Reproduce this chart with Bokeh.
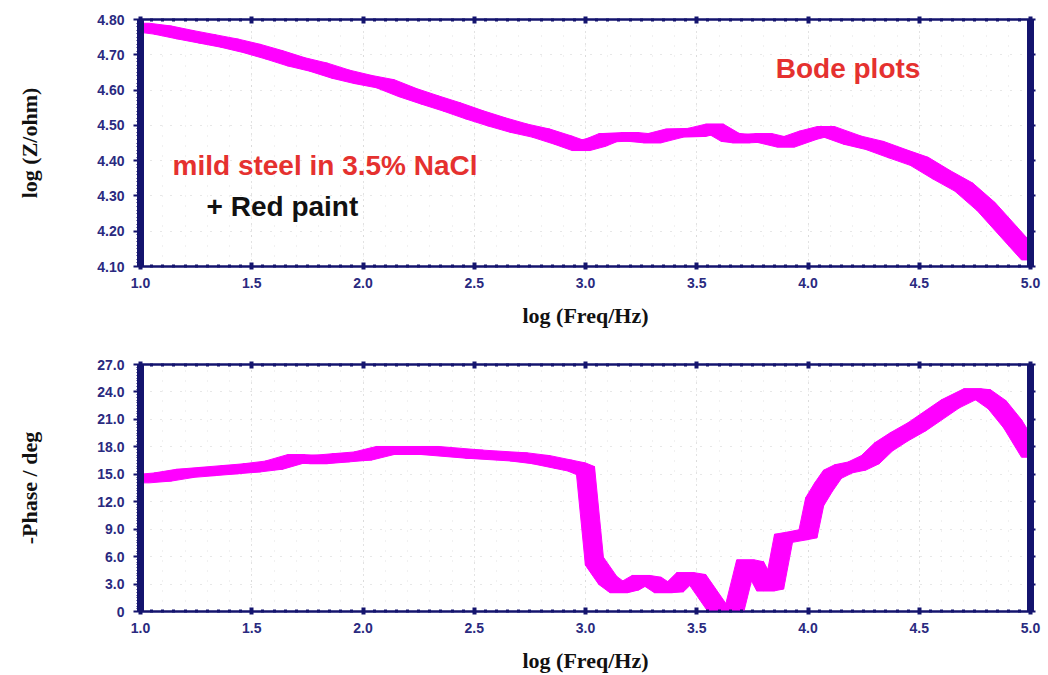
from bokeh.plotting import figure
from bokeh.layouts import column
from bokeh.models import FixedTicker, LinearAxis, Range1d, Label, CustomJSTickFormatter
from bokeh.embed import file_html
from bokeh.resources import INLINE

# ---------------- data ----------------
freq_z = [1.0, 1.1, 1.2, 1.3, 1.4, 1.5, 1.6, 1.7, 1.8, 1.9, 2.0, 2.1, 2.2, 2.3, 2.4,
          2.5, 2.6, 2.7, 2.8, 2.9, 2.98, 3.05, 3.1, 3.2, 3.3, 3.4, 3.5, 3.58, 3.65,
          3.7, 3.8, 3.9, 4.0, 4.08, 4.2, 4.3, 4.4, 4.5, 4.6, 4.7, 4.8, 4.9, 5.0]
log_z = [4.778, 4.770, 4.757, 4.745, 4.733, 4.718, 4.700, 4.680, 4.665, 4.645, 4.630,
         4.618, 4.593, 4.572, 4.552, 4.530, 4.510, 4.492, 4.478, 4.458, 4.440, 4.452,
         4.465, 4.468, 4.462, 4.478, 4.480, 4.492, 4.466, 4.462, 4.465, 4.450, 4.472,
         4.485, 4.458, 4.443, 4.420, 4.398, 4.360, 4.325, 4.270, 4.200, 4.130]

freq_p = [1.0, 1.1, 1.2, 1.3, 1.4, 1.5, 1.6, 1.7, 1.8, 1.9, 2.0, 2.1, 2.3, 2.5, 2.7,
          2.8, 2.9, 2.96, 3.0, 3.04, 3.1, 3.15, 3.2, 3.25, 3.3, 3.35, 3.4, 3.45, 3.5, 3.6,
          3.67, 3.72, 3.76, 3.81, 3.85, 3.89, 3.96, 4.0, 4.03, 4.07, 4.11, 4.16, 4.22,
          4.28, 4.34, 4.41, 4.49, 4.55, 4.64, 4.74, 4.78, 4.85, 4.92, 5.0]
phase = [14.5, 14.7, 15.1, 15.3, 15.5, 15.7, 16.0, 16.7, 16.6, 16.8, 17.0, 17.6, 17.6,
         17.2, 16.9, 16.6, 16.1, 15.8, 15.4, 5.5, 3.4, 2.5, 2.8, 3.5, 3.3, 2.5, 2.6, 3.8,
         3.6, 0.1, 0.3, 5.2, 5.0, 2.7, 2.9, 8.0, 8.3, 8.5, 12.0, 13.6, 15.0, 15.6, 15.9,
         16.6, 18.0, 19.1, 20.2, 21.2, 22.7, 23.9, 23.8, 22.6, 20.5, 17.3]

x_ticks = [1.0, 1.5, 2.0, 2.5, 3.0, 3.5, 4.0, 4.5, 5.0]
x_tick_labels = ["1.0", "1.5", "2.0", "2.5", "3.0", "3.5", "4.0", "4.5", "5.0"]
z_ticks = [4.10, 4.20, 4.30, 4.40, 4.50, 4.60, 4.70, 4.80]
z_tick_labels = ["4.10", "4.20", "4.30", "4.40", "4.50", "4.60", "4.70", "4.80"]
p_ticks = [0, 3, 6, 9, 12, 15, 18, 21, 24, 27]
p_tick_labels = ["0", "3.0", "6.0", "9.0", "12.0", "15.0", "18.0", "21.0", "24.0", "27.0"]

# ---------------- style ----------------
NAVY = "#14146e"
TICK_COL = "#2a2a80"
MAGENTA = "#ff00ff"
RED = "#e5312f"
FRAME_W, FRAME_H = 890, 247
PEN_W, PEN_H = 18, 8   # rectangular "pen" in screen pixels


def hull(pts):
    pts = sorted(set(pts))
    if len(pts) <= 2:
        return pts

    def cross(o, a, b):
        return (a[0] - o[0]) * (b[1] - o[1]) - (a[1] - o[1]) * (b[0] - o[0])
    lower, upper = [], []
    for q in pts:
        while len(lower) >= 2 and cross(lower[-2], lower[-1], q) <= 0:
            lower.pop()
        lower.append(q)
    for q in reversed(pts):
        while len(upper) >= 2 and cross(upper[-2], upper[-1], q) <= 0:
            upper.pop()
        upper.append(q)
    return lower[:-1] + upper[:-1]


def pen_band(xs, ys, wx, hy):
    pxs, pys = [], []
    for i in range(len(xs) - 1):
        pts = []
        for (x, y) in ((xs[i], ys[i]), (xs[i + 1], ys[i + 1])):
            for sx in (-0.5, 0.5):
                for sy in (-0.5, 0.5):
                    pts.append((x + sx * wx, y + sy * hy))
        h = hull(pts)
        pxs.append([q[0] for q in h])
        pys.append([q[1] for q in h])
    return pxs, pys


def fmt(tv, tl):
    return CustomJSTickFormatter(args=dict(tv=tv, tl=tl), code="""
        for (let i = 0; i < tv.length; i++) {
            if (Math.abs(tv[i] - tick) < 1e-9) return tl[i];
        }
        return '';
    """)


def make_fig(height, top, bottom, y0, y1, yticks, ylabels, yminor, ylabel):
    p = figure(width=1048, height=height, x_range=Range1d(1.0, 5.0),
               y_range=Range1d(y0, y1), output_backend="svg", toolbar_location=None,
               min_border_left=140, min_border_right=18, min_border_top=top,
               min_border_bottom=bottom, background_fill_color="white",
               border_fill_color="white")
    p.outline_line_color = NAVY
    p.outline_line_width = 2

    x_minor = [round(1.0 + 0.05 * i, 3) for i in range(81)]
    xt = FixedTicker(ticks=x_ticks, minor_ticks=x_minor)
    yt = FixedTicker(ticks=yticks, minor_ticks=yminor)

    xa = p.xaxis[0]
    xa.ticker = xt
    xa.formatter = fmt(x_ticks, x_tick_labels)
    xa.axis_line_color = NAVY
    xa.axis_line_width = 2
    xa.major_tick_in = 4
    xa.major_tick_out = 3
    xa.major_tick_line_width = 4
    xa.major_tick_line_color = NAVY
    xa.minor_tick_in = 2
    xa.minor_tick_out = 1
    xa.minor_tick_line_width = 3
    xa.minor_tick_line_color = NAVY
    xa.major_label_text_font = "Liberation Sans"
    xa.major_label_text_font_style = "bold"
    xa.major_label_text_font_size = "14px"
    xa.major_label_text_color = TICK_COL
    xa.major_label_standoff = 8
    xa.axis_label = "log (Freq/Hz)"
    xa.axis_label_text_font = "Liberation Serif"
    xa.axis_label_text_font_style = "bold"
    xa.axis_label_text_font_size = "22px"
    xa.axis_label_text_color = "#111111"
    xa.axis_label_standoff = 12

    ya = p.yaxis[0]
    ya.ticker = yt
    ya.formatter = fmt(yticks, ylabels)
    ya.axis_line_color = NAVY
    ya.axis_line_width = 7
    ya.major_tick_in = 0
    ya.major_tick_out = 7
    ya.major_tick_line_width = 2
    ya.major_tick_line_color = NAVY
    ya.minor_tick_in = 0
    ya.minor_tick_out = 4
    ya.minor_tick_line_width = 1
    ya.minor_tick_line_color = NAVY
    ya.major_label_text_font = "Liberation Sans"
    ya.major_label_text_font_style = "bold"
    ya.major_label_text_font_size = "14px"
    ya.major_label_text_color = TICK_COL
    ya.major_label_standoff = 9
    ya.axis_label = ylabel
    ya.axis_label_text_font = "Liberation Serif"
    ya.axis_label_text_font_style = "bold"
    ya.axis_label_text_font_size = "22px"
    ya.axis_label_text_color = "#111111"
    ya.axis_label_standoff = 52

    blank = CustomJSTickFormatter(code="return '';")
    ra = LinearAxis(ticker=yt, formatter=blank, axis_line_color=NAVY, axis_line_width=7,
                    major_tick_in=0, major_tick_out=5, major_tick_line_color=NAVY,
                    major_tick_line_width=2, minor_tick_in=0, minor_tick_out=3,
                    minor_tick_line_color=NAVY, minor_tick_line_width=1,
                    major_label_standoff=0)
    p.add_layout(ra, "right")
    ta = LinearAxis(ticker=xt, formatter=blank, axis_line_color=NAVY, axis_line_width=2,
                    major_tick_in=4, major_tick_out=3, major_tick_line_color=NAVY,
                    major_tick_line_width=4, minor_tick_in=2, minor_tick_out=1,
                    minor_tick_line_color=NAVY, minor_tick_line_width=3,
                    major_label_standoff=0)
    p.add_layout(ta, "above")

    p.xgrid[0].ticker = FixedTicker(ticks=x_ticks,
                                    minor_ticks=[round(1.0 + 0.1 * i, 2) for i in range(41)])
    p.xgrid.grid_line_color = "#c4c4c4"
    p.xgrid.grid_line_dash = "1 5"
    p.xgrid.minor_grid_line_color = "#e2e2e2"
    p.xgrid.minor_grid_line_dash = "1 9"
    p.ygrid[0].ticker = FixedTicker(ticks=yticks)
    p.ygrid.grid_line_color = "#cfcfcf"
    p.ygrid.grid_line_dash = "1 9"
    return p


# ---------------- top: log|Z| ----------------
p1 = make_fig(340, 19, 74, 4.10, 4.80, z_ticks, z_tick_labels,
              [round(4.10 + 0.01 * i, 3) for i in range(71)], "log (Z/ohm)")
wx = PEN_W * (5.0 - 1.0) / FRAME_W
hy = PEN_H * (4.80 - 4.10) / FRAME_H
bx, by = pen_band(freq_z, log_z, wx, hy)
p1.patches(xs=bx, ys=by, fill_color=MAGENTA, line_color=MAGENTA, line_width=1)

p1.add_layout(Label(x=4.18, y=4.661, text="Bode plots", text_align="center",
                    text_baseline="middle", text_font="Liberation Sans",
                    text_font_style="bold", text_font_size="28px", text_color=RED))
p1.add_layout(Label(x=1.144, y=4.386, text="mild steel in 3.5% NaCl", text_align="left",
                    text_baseline="middle", text_font="Liberation Sans",
                    text_font_style="bold", text_font_size="28px", text_color=RED))
p1.add_layout(Label(x=1.297, y=4.27, text="+ Red paint", text_align="left",
                    text_baseline="middle", text_font="Liberation Sans",
                    text_font_style="bold", text_font_size="28px", text_color="#111111"))

# ---------------- bottom: -phase ----------------
p2 = make_fig(335, 24, 64, 0.0, 27.0, p_ticks, p_tick_labels,
              [round(0.3 * i, 2) for i in range(91)], "-Phase / deg")
hy2 = PEN_H * 27.0 / FRAME_H
bx2, by2 = pen_band(freq_p, phase, wx, hy2)
p2.patches(xs=bx2, ys=by2, fill_color=MAGENTA, line_color=MAGENTA, line_width=1)

layout = column(p1, p2, spacing=0)
open("out.html", "w").write(file_html(layout, INLINE))
